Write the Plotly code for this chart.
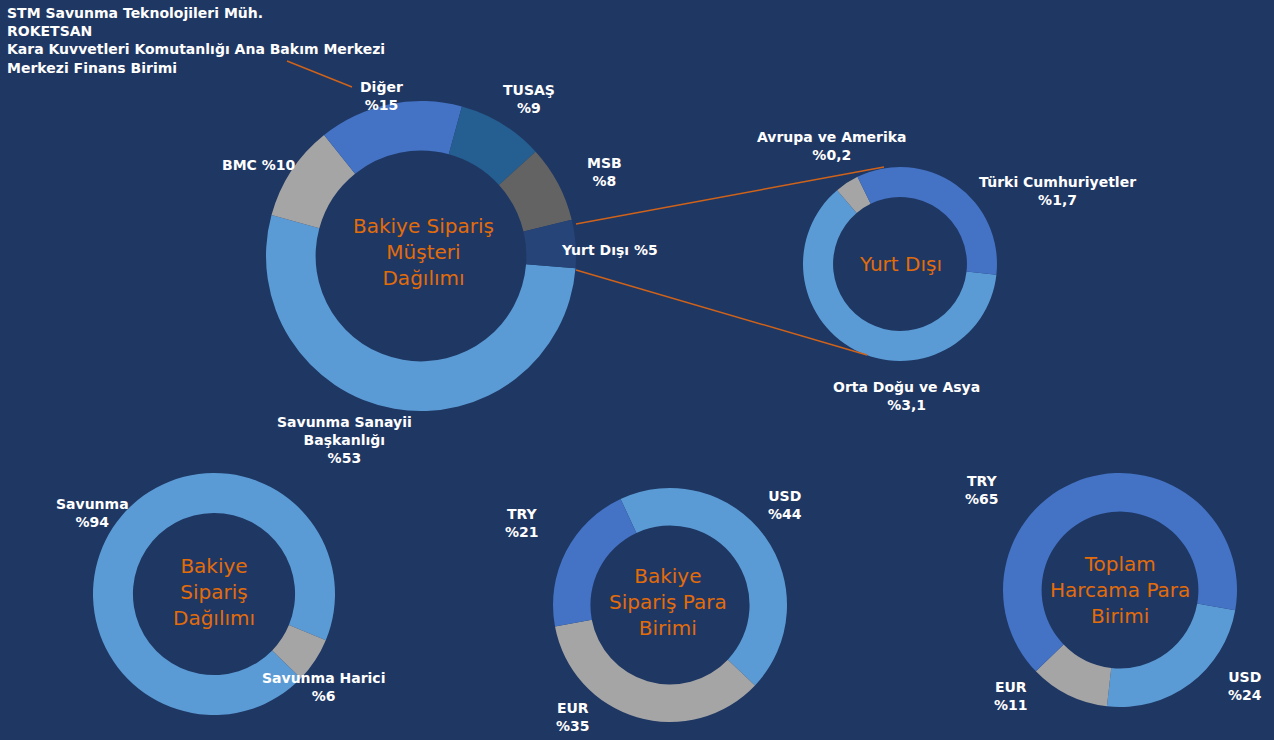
import plotly.graph_objects as go

# ---------------- data ----------------
main_labels = ["Savunma Sanayii<br>Başkanlığı", "BMC", "Diğer", "TUSAŞ", "MSB", "Yurt Dışı"]
main_values = [53, 10, 15, 9, 8, 5]

abroad_labels = ["Orta Doğu ve Asya", "Avrupa ve Amerika", "Türki Cumhuriyetler"]
abroad_values = [3.1, 0.2, 1.7]

dist_labels = ["Savunma", "Savunma Harici"]
dist_values = [94, 6]

order_cur_labels = ["USD", "EUR", "TRY"]
order_cur_values = [44, 35, 21]

spend_cur_labels = ["USD", "EUR", "TRY"]
spend_cur_values = [24, 11, 65]

other_customers = ["STM Savunma Teknolojileri Müh.", "ROKETSAN",
                   "Kara Kuvvetleri Komutanlığı Ana Bakım Merkezi", "Merkezi Finans Birimi"]

titles = ["Bakiye Sipariş<br>Müşteri<br>Dağılımı", "Yurt Dışı", "Bakiye<br>Sipariş<br>Dağılımı",
          "Bakiye<br>Sipariş Para<br>Birimi", "Toplam<br>Harcama Para<br>Birimi"]

# ---------------- style ----------------
W, H = 1274, 740
BG = "#1F3763"
LBLUE, MBLUE, GRAY, DGRAY, TEAL, NAVY = "#5B9BD5", "#4472C4", "#A5A5A5", "#636363", "#255E91", "#264478"
ORANGE = "#E36C0A"
LINE = "#D0631A"
FONT = "DejaVu Sans"


def fmt(v):
    s = f"{v:g}".replace(".", ",")
    return "%" + s


def dom(cx, cy, r):
    return dict(x=[(cx - r) / W, (cx + r) / W], y=[1 - (cy + r) / H, 1 - (cy - r) / H])


fig = go.Figure()

pies = [
    (main_labels, main_values, [LBLUE, GRAY, MBLUE, TEAL, DGRAY, NAVY], (421, 256, 155), 94.5, 0.68),
    (abroad_labels, abroad_values, [LBLUE, GRAY, MBLUE], (900, 264, 97), 96.4, 0.69),
    (dist_labels, dist_values, [LBLUE, GRAY], (214, 594, 121), 134.1, 0.67),
    (order_cur_labels, order_cur_values, [LBLUE, GRAY, MBLUE], (670, 605, 117), 335, 0.68),
    (spend_cur_labels, spend_cur_values, [LBLUE, GRAY, MBLUE], (1120, 590, 117), 100, 0.67),
]
for labels, values, colors, (cx, cy, r), rot, hole in pies:
    fig.add_trace(go.Pie(
        labels=labels, values=values, hole=hole, sort=False, direction="clockwise",
        rotation=rot, marker=dict(colors=colors, line=dict(width=0)),
        textinfo="none", showlegend=False, domain=dom(cx, cy, r),
    ))

ann = []


def add_text(px, py, text, color="white", size=14, bold=True, align="center", xanchor="center"):
    t = f"<b>{text}</b>" if bold else text
    ann.append(dict(x=px / W, y=1 - py / H, xref="paper", yref="paper", text=t, showarrow=False,
                    xanchor=xanchor, yanchor="middle", align=align,
                    font=dict(family=FONT, size=size, color=color)))


# slice labels
main_pos = [(344, 440), (259, 165), (381, 96), (529, 99), (604, 172), (609, 250)]
for (px, py), lab, v in zip(main_pos, main_labels, main_values):
    if lab in ("BMC", "Yurt Dışı"):
        add_text(px, py, f"{lab} {fmt(v)}")
    else:
        add_text(px, py, f"{lab}<br>{fmt(v)}")

abroad_pos = [(907, 396), (832, 146), (1057, 191)]
for (px, py), lab, v in zip(abroad_pos, abroad_labels, abroad_values):
    add_text(px, py, f"{lab}<br>{fmt(v)}")

dist_pos = [(92, 513), (323, 687)]
for (px, py), lab, v in zip(dist_pos, dist_labels, dist_values):
    add_text(px, py, f"{lab}<br>{fmt(v)}")

oc_pos = [(785, 505), (573, 717), (522, 523)]
for (px, py), lab, v in zip(oc_pos, order_cur_labels, order_cur_values):
    add_text(px, py, f"{lab}<br>{fmt(v)}")

sc_pos = [(1245, 686), (1011, 696), (982, 490)]
for (px, py), lab, v in zip(sc_pos, spend_cur_labels, spend_cur_values):
    add_text(px, py, f"{lab}<br>{fmt(v)}")

# other customers block
add_text(5, 40, "<br>".join(other_customers), align="left", xanchor="left")

# centre titles
title_pos = [(423, 252), (900, 264), (214, 592), (668, 602), (1120, 590)]
for (px, py), t in zip(title_pos, titles):
    add_text(px, py, t, color=ORANGE, size=20, bold=False)

# leader lines
lines = [((287, 61), (352, 87)), ((576, 224), (884, 167)), ((576, 270), (867, 355))]
shapes = []
for (x0, y0), (x1, y1) in lines:
    shapes.append(dict(type="line", xref="paper", yref="paper",
                       x0=x0 / W, y0=1 - y0 / H, x1=x1 / W, y1=1 - y1 / H,
                       line=dict(color=LINE, width=1.5)))

fig.update_layout(width=W, height=H, margin=dict(l=0, r=0, t=0, b=0),
                  paper_bgcolor=BG, plot_bgcolor=BG, annotations=ann, shapes=shapes)

fig.write_html("out.html", config={"displayModeBar": False},
               post_script="document.body.style.margin='0';document.body.style.overflow='hidden';"
                           "document.body.style.background='" + BG + "';")
